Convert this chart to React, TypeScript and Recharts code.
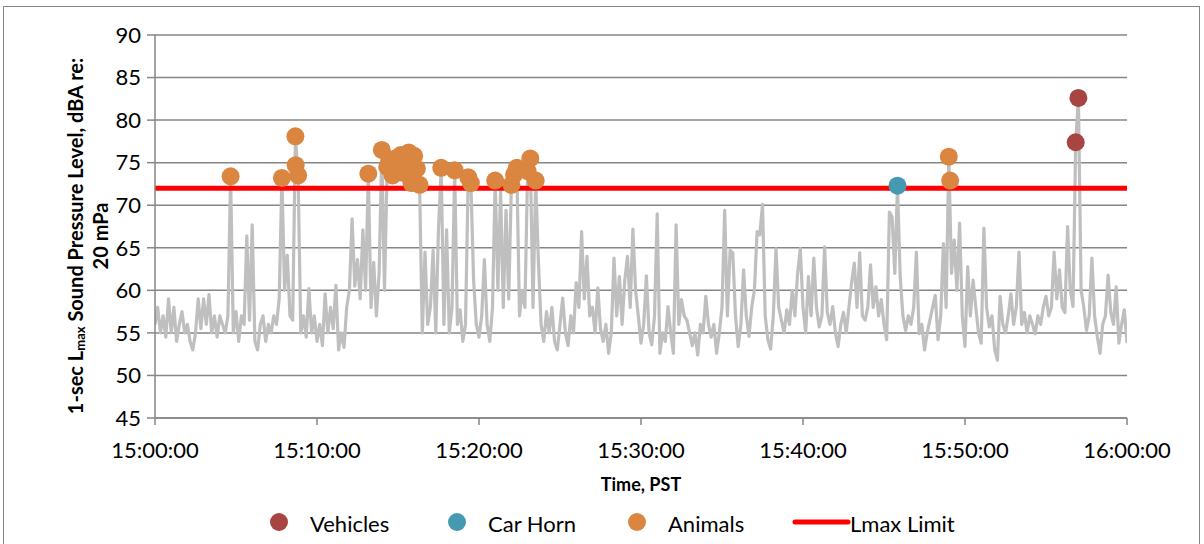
import React from 'react';
import { ComposedChart, Line, Scatter, XAxis, YAxis, CartesianGrid } from 'recharts';

// 1-sec Lmax readings, sampled every 10 s from 15:00:00 to 16:00:00 (dBA)
const SAMPLE_STEP_SEC = 10;
const lmaxValues: number[] = [
  56, 58, 55, 57, 54.5, 59, 55, 58, 54, 56,
  57.5, 55, 56, 54, 53, 55, 59, 55.5, 59, 56,
  59.5, 55, 57, 54.5, 57, 56, 55, 57, 73.4, 55,
  57.5, 54, 57, 56, 66.4, 56.5, 67.7, 54, 53, 56,
  57, 54, 56, 55, 57, 56, 59, 73.2, 60, 64.1,
  57, 56.5, 78.1, 73.5, 55, 57, 54.5, 60.2, 55, 57,
  54, 56, 53.5, 59.6, 55, 58, 55.5, 60.6, 53, 55,
  53.3, 58, 60, 68.4, 60.5, 63.6, 59, 67.1, 60, 73.7,
  58, 63.3, 57, 62, 76.5, 60, 74.5, 75.3, 73.5, 75.5,
  74.8, 75.9, 73.8, 75.2, 76.2, 72.6, 75.8, 74.3, 72.2, 55,
  64.5, 56, 58, 64.7, 55, 67.3, 74.4, 56, 67.1, 55,
  58, 74.1, 56, 57.7, 54, 56, 73.3, 72.6, 61.2, 56,
  54.5, 57, 63.6, 56, 54, 58, 73, 60, 71.7, 58,
  69.4, 59, 72.4, 73.6, 74.4, 57, 60, 58, 74, 75.5,
  58, 72.9, 63.4, 56, 54, 57.5, 55, 58, 54, 53,
  56, 59.1, 55, 53.5, 57, 55, 60.9, 58, 66.9, 59,
  64, 57, 58, 55, 60.3, 55.5, 54, 56, 52.6, 55,
  63.8, 57, 61.6, 56, 61.2, 64, 58, 67.2, 60, 57,
  53.8, 56, 61.7, 55, 53.6, 57, 69, 52.6, 55, 54,
  58.1, 55, 52.6, 67.7, 56, 58.9, 57, 56.5, 55, 53.5,
  55, 52.4, 56, 55, 59.3, 56, 54.5, 56, 52.6, 55,
  58, 69.4, 57, 64.7, 64.4, 57, 53.4, 56, 62.4, 57,
  54.6, 58, 60, 66.9, 66.5, 70.1, 57, 54.2, 53.1, 57,
  64.9, 58, 56.5, 55, 57.7, 56, 60, 57, 62, 64.9,
  58, 55, 61.6, 57, 63.8, 58, 55.7, 57, 65.1, 57.4,
  56, 58.1, 55, 53.4, 56, 57.4, 55, 58, 60.9, 63.2,
  58, 64.4, 57, 56.5, 58, 63, 58, 60.4, 57, 58.9,
  56, 54.2, 69.2, 68.6, 62, 72.3, 61.6, 57, 55.3, 57,
  56, 58, 64.5, 54.9, 56, 53, 55, 56.5, 58, 59.4,
  54.2, 57, 65.5, 58, 75.7, 62, 65.9, 60, 67.9, 57,
  53.4, 62.8, 57, 61.2, 58, 55, 53.8, 67.3, 58, 55.7,
  57, 53, 51.8, 59.3, 56, 55, 57, 59.6, 56, 58,
  64.5, 56, 57.4, 55, 57, 56, 54.9, 57, 56, 58,
  59.3, 57, 58, 64.5, 59, 62.4, 58, 57.4, 67.5, 60,
  58.1, 77.4, 82.6, 60, 58, 55.3, 57, 63.8, 57, 54.6,
  52.6, 56, 57, 61.8, 57.4, 56, 60.4, 53.8, 56, 57.7,
  53.8,
];

// Identified events (seconds after 15:00:00, dBA)
const vehicleTimes = [3410, 3420];
const vehicleLevels = [77.4, 82.6];
const carHornTimes = [2750];
const carHornLevels = [72.3];
const animalTimes = [
  280, 470, 520, 521, 530, 790, 840, 860, 870, 880,
  890, 900, 910, 920, 930, 940, 950, 960, 970, 980,
  1060, 1110, 1160, 1170, 1260, 1320, 1330, 1340, 1380, 1390,
  1410, 2940, 2945,
];
const animalLevels = [
  73.4, 73.2, 78.1, 74.7, 73.5, 73.7, 76.5, 74.5, 75.3, 73.5,
  75.5, 74.8, 75.9, 73.8, 75.2, 76.2, 72.6, 75.8, 74.3, 72.4,
  74.4, 74.1, 73.3, 72.6, 72.9, 72.4, 73.6, 74.4, 74.0, 75.5,
  72.9, 75.7, 72.9,
];
const lmaxLimit = 72;

const xTicks = [0, 600, 1200, 1800, 2400, 3000, 3600];
const xTickLabels = ['15:00:00', '15:10:00', '15:20:00', '15:30:00', '15:40:00', '15:50:00', '16:00:00'];
const yTicks = [45, 50, 55, 60, 65, 70, 75, 80, 85, 90];

const legendNames = ['Vehicles', 'Car Horn', 'Animals', 'Lmax Limit'];
const legendColors = ['#A84442', '#4599B1', '#DA8540', '#FF0000'];
const legendKinds = ['dot', 'dot', 'dot', 'line'];
// layout only: left edge of each legend entry's symbol
const LEGEND_SYMBOL_X = [270, 448, 628, 795];

const lmaxData = lmaxValues.map((v, i) => ({ t: i * SAMPLE_STEP_SEC, v }));
const limitData = [
  { t: xTicks[0], v: lmaxLimit },
  { t: xTicks[xTicks.length - 1], v: lmaxLimit },
];
const toPoints = (ts: number[], vs: number[]) => ts.map((t, i) => ({ t, v: vs[i] }));
const vehicleData = toPoints(vehicleTimes, vehicleLevels);
const carHornData = toPoints(carHornTimes, carHornLevels);
const animalData = toPoints(animalTimes, animalLevels);

const FONT = 'Lato, "Open Sans", sans-serif';
const GRID = '#868686';

const dotShape = (color: string) => (p: any) =>
  p.cx == null ? null : <circle cx={p.cx} cy={p.cy} r={9} fill={color} />;

export default function App() {
  return (
    <div
      style={{
        position: 'absolute',
        left: 0,
        top: 0,
        width: 1204,
        height: 544,
        overflow: 'hidden',
        background: '#fff',
        fontFamily: FONT,
      }}
    >
      <div
        style={{
          position: 'absolute',
          left: 3,
          top: 6,
          width: 1197,
          height: 600,
          border: `1px solid ${GRID}`,
          boxSizing: 'border-box',
        }}
      />
      <ComposedChart
        width={1204}
        height={544}
        margin={{ top: 35, right: 77, bottom: 86, left: 0 }}
        style={{ position: 'absolute', left: 0, top: 0 }}
      >
        <CartesianGrid horizontal vertical={false} stroke={GRID} strokeWidth={1.5} />
        <XAxis
          type="number"
          dataKey="t"
          domain={[0, 3600]}
          ticks={xTicks}
          tickFormatter={(t: number) => xTickLabels[xTicks.indexOf(t)]}
          height={40}
          tickSize={7}
          tickMargin={17}
          axisLine={{ stroke: GRID, strokeWidth: 1.5 }}
          tickLine={{ stroke: GRID, strokeWidth: 1.5 }}
          tick={{ fill: '#000', fontSize: 22, fontFamily: FONT }}
          allowDataOverflow
        />
        <YAxis
          type="number"
          dataKey="v"
          domain={[45, 90]}
          ticks={yTicks}
          width={155}
          tickSize={8}
          tickMargin={6}
          axisLine={{ stroke: GRID, strokeWidth: 1.5 }}
          tickLine={{ stroke: GRID, strokeWidth: 1.5 }}
          tick={{ fill: '#000', fontSize: 22, fontFamily: FONT }}
          allowDataOverflow
        />
        <Line
          data={lmaxData}
          dataKey="v"
          stroke="#BFBFBF"
          strokeWidth={3.2}
          dot={false}
          activeDot={false}
          strokeLinejoin="round"
          isAnimationActive={false}
        />
        <Line
          data={limitData}
          dataKey="v"
          stroke="#FF0000"
          strokeWidth={5}
          dot={false}
          activeDot={false}
          isAnimationActive={false}
        />
        <Scatter data={vehicleData} dataKey="v" fill="#A84442" shape={dotShape('#A84442')} isAnimationActive={false} />
        <Scatter data={carHornData} dataKey="v" fill="#4599B1" shape={dotShape('#4599B1')} isAnimationActive={false} />
        <Scatter data={animalData} dataKey="v" fill="#DA8540" shape={dotShape('#DA8540')} isAnimationActive={false} />
      </ComposedChart>

      <svg width={1204} height={544} style={{ position: 'absolute', left: 0, top: 0, pointerEvents: 'none' }}>
        <text
          transform="translate(75,236) rotate(-90)"
          textAnchor="middle"
          dominantBaseline="central"
          fontFamily={FONT}
          fontWeight="bold"
          fontSize={20}
          fill="#000"
        >
          1-sec L<tspan fontSize={13} dy={5}>max</tspan>
          <tspan dy={-5}> Sound Pressure Level, dBA re:</tspan>
        </text>
        <text
          transform="translate(100,236) rotate(-90)"
          textAnchor="middle"
          dominantBaseline="central"
          fontFamily={FONT}
          fontWeight="bold"
          fontSize={20}
          fill="#000"
        >
          20 mPa
        </text>
        <text x={641} y={484} textAnchor="middle" dominantBaseline="central" fontFamily={FONT} fontWeight="bold" fontSize={18} fill="#000">
          Time, PST
        </text>
        {legendNames.map((name, i) =>
          legendKinds[i] === 'dot' ? (
            <g key={name}>
              <circle cx={LEGEND_SYMBOL_X[i] + 9} cy={522} r={9} fill={legendColors[i]} />
              <text x={LEGEND_SYMBOL_X[i] + 40} y={523} dominantBaseline="central" fontFamily={FONT} fontSize={22} fill="#000">
                {name}
              </text>
            </g>
          ) : (
            <g key={name}>
              <line x1={LEGEND_SYMBOL_X[i]} y1={522} x2={LEGEND_SYMBOL_X[i] + 53} y2={522} stroke={legendColors[i]} strokeWidth={5} strokeLinecap="round" />
              <text x={LEGEND_SYMBOL_X[i] + 55} y={523} dominantBaseline="central" fontFamily={FONT} fontSize={22} fill="#000">
                {name}
              </text>
            </g>
          )
        )}
      </svg>
    </div>
  );
}
